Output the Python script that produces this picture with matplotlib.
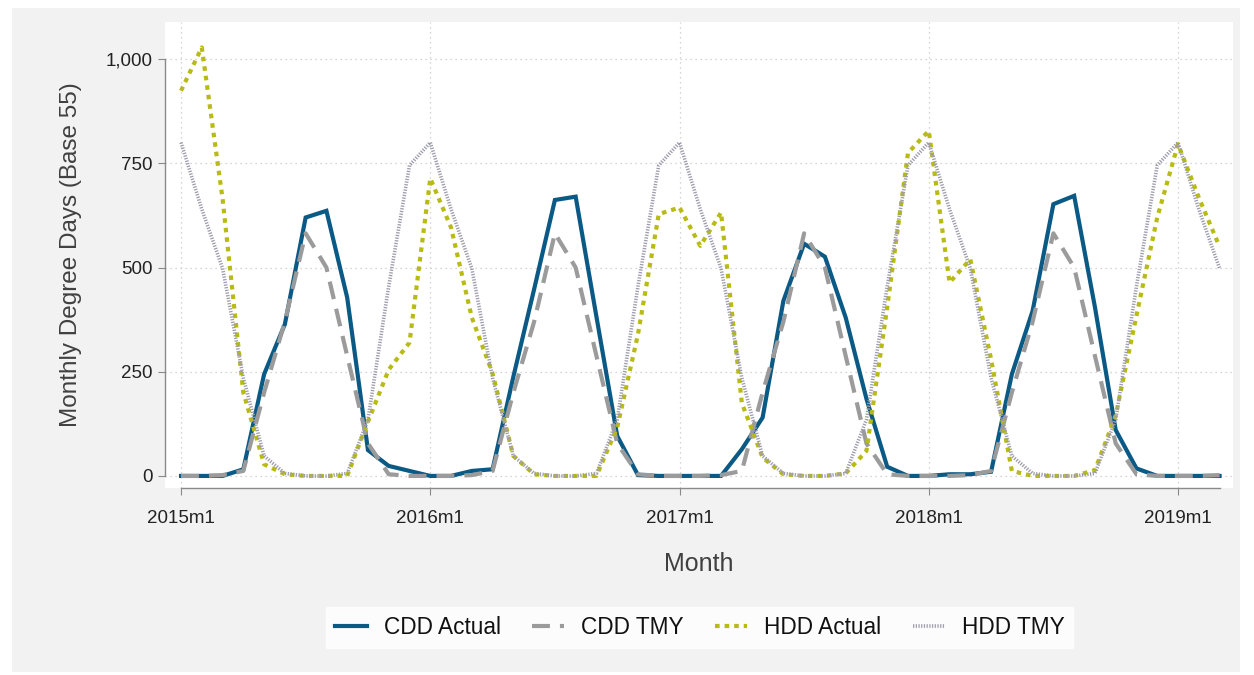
import numpy as np
import matplotlib
matplotlib.use("Agg")
import matplotlib.pyplot as plt
from matplotlib.patches import Rectangle
from matplotlib.ticker import FuncFormatter

plt.rcParams['font.family'] = ['Liberation Sans', 'DejaVu Sans']

# monthly series, 2015m1 .. 2019m3
cdd_actual = [0, 0, 0, 16, 244, 364, 620, 636, 428, 62, 24, 12,
              0, 0, 12, 16, 238, 448, 662, 670, 382, 96, 2, 0,
              0, 0, 0, 64, 140, 420, 557, 526, 380, 185, 22, 0,
              0, 4, 4, 10, 244, 396, 652, 672, 405, 110, 18, 0,
              0, 0, 0]
cdd_tmy_year = [0, 0, 2, 12, 200, 370, 582, 500, 288, 78, 4, 0]
hdd_actual = [924, 1028, 665, 200, 28, 4, 0, 0, 0, 130, 255, 320,
              714, 596, 380, 246, 48, 4, 0, 0, 0, 116, 340, 628,
              644, 552, 632, 175, 44, 4, 0, 0, 6, 60, 405, 775,
              828, 464, 520, 280, 12, 0, 0, 0, 14, 145, 385, 620,
              796, 668, 550]
hdd_tmy_year = [800, 640, 498, 235, 48, 6, 0, 0, 6, 135, 455, 745]
tick_labels = ['2015m1', '2016m1', '2017m1', '2018m1', '2019m1']

n = len(cdd_actual)
months = np.arange(n)
cdd_tmy = [cdd_tmy_year[i % 12] for i in range(n)]
hdd_tmy = [hdd_tmy_year[i % 12] for i in range(n)]

fig = plt.figure(figsize=(12.54, 6.75), dpi=100)
fig.patch.set_facecolor('white')
fig.patches.append(Rectangle((0.0096, 0.0044), 0.979, 0.9837, transform=fig.transFigure,
                             facecolor='#f2f2f2', edgecolor='none', zorder=-10))

ax = fig.add_axes([0.1316, 0.277, 0.8517, 0.6904])
ax.set_zorder(1)
ax.set_facecolor('white')

ax.plot(months, cdd_actual, color='#0b5a85', lw=3.0, label='CDD Actual',
        solid_joinstyle='miter')
ax.plot(months, cdd_tmy, color='#9b9b9b', lw=3.0, ls=(0, (4.3, 2.4)),
        label='CDD TMY', dash_capstyle='butt')
ax.plot(months, hdd_actual, color='#b8bb14', lw=3.0, ls=(0, (1.1, 1.2)),
        label='HDD Actual', dash_capstyle='butt')
ax.plot(months, hdd_tmy, color='#9c9cac', lw=2.6, ls=(0, (0.35, 0.4)),
        label='HDD TMY', dash_capstyle='butt')

ax.set_xlim(-0.77, 50.65)
ax.set_ylim(-29, 1089)
ax.set_xticks(np.arange(0, n, 12))
ax.set_xticklabels(tick_labels)
ax.set_yticks([0, 250, 500, 750, 1000])
ax.yaxis.set_major_formatter(FuncFormatter(lambda v, p: f'{int(v):,}'))

ax.grid(True, color='#c8c8c8', lw=0.9, ls=(0, (1, 3)))
ax.set_axisbelow(True)
for s in ['top', 'right']:
    ax.spines[s].set_visible(False)
ax.spines['left'].set_bounds(0, 1000)
ax.spines['bottom'].set_bounds(0, n - 1)
for s in ['left', 'bottom']:
    ax.spines[s].set_color('#8a8a8a')
    ax.spines[s].set_linewidth(1.0)
ax.tick_params(axis='both', colors='#8a8a8a', labelcolor='#222222', labelsize=13.5,
               length=5)
ax.tick_params(axis='x', pad=11)
ax.tick_params(axis='y', pad=4)

ax.set_xlabel('Month', fontsize=18, color='#404040', labelpad=18)
ax.set_ylabel('Monthly Degree Days (Base 55)', fontsize=17.5, color='#404040', labelpad=17)

leg = ax.legend(loc='center', bbox_to_anchor=(0.558, 0.071), bbox_transform=fig.transFigure,
                ncol=4, frameon=True, fancybox=False, fontsize=16.3, handlelength=1.4,
                handletextpad=0.75, columnspacing=1.4, borderpad=0.4)
leg.get_frame().set_edgecolor('white')
leg.get_frame().set_facecolor('white')
for t in leg.get_texts():
    t.set_color('#111111')

fig.savefig('out.png', dpi=100)
